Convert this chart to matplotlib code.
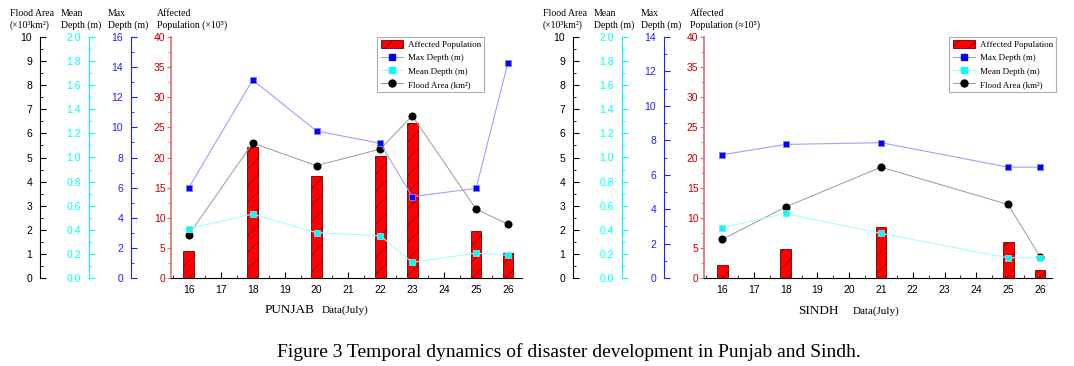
import matplotlib
matplotlib.use("Agg")
import matplotlib.pyplot as plt
from matplotlib.ticker import MultipleLocator, FormatStrFormatter
from matplotlib.patches import Patch
from matplotlib.lines import Line2D

# ---- data ----
# Punjab
pj_days = [16, 18, 20, 22, 23, 25, 26]
pj_population = [4.5, 21.7, 16.9, 20.2, 25.7, 7.75, 4.15]      # x10^5
pj_max_depth = [6.0, 13.15, 9.76, 8.94, 5.4, 5.95, 14.3]       # m
pj_mean_depth = [0.41, 0.53, 0.376, 0.35, 0.13, 0.207, 0.188]  # m
pj_flood_area = [1.8, 5.6, 4.66, 5.35, 6.73, 2.86, 2.23]       # x10^3 km2

# Sindh
sd_days = [16, 18, 21, 25, 26]
sd_population = [2.15, 4.8, 8.45, 6.0, 1.38]
sd_max_depth = [7.16, 7.76, 7.86, 6.44, 6.44]
sd_mean_depth = [0.417, 0.536, 0.37, 0.168, 0.168]
sd_flood_area = [1.6, 2.95, 4.6, 3.05, 0.89]

x_ticks = list(range(16, 27))

SANS = ["Liberation Sans", "DejaVu Sans"]
SERIF = ["Liberation Serif", "DejaVu Serif"]
plt.rcParams["font.family"] = SANS
plt.rcParams["hatch.linewidth"] = 0.5

W, H = 1074, 366
fig = plt.figure(figsize=(W / 100, H / 100), dpi=100)


def px(x, y):
    return x / W, 1 - y / H


def side_axis(ax, offset, ylim, major, minor, spine_col, label_col, fmt):
    tw = ax.twinx()
    for s in ("right", "top", "bottom"):
        tw.spines[s].set_visible(False)
    tw.spines["left"].set_visible(True)
    tw.spines["left"].set_position(("outward", offset))
    tw.spines["left"].set_color(spine_col)
    tw.yaxis.set_ticks_position("left")
    tw.set_ylim(*ylim)
    tw.yaxis.set_major_locator(MultipleLocator(major))
    tw.yaxis.set_minor_locator(MultipleLocator(minor))
    tw.yaxis.set_major_formatter(FormatStrFormatter(fmt))
    tw.tick_params(axis="y", which="both", direction="in", color=spine_col,
                   labelcolor=label_col, labelsize=7.5, pad=6)
    tw.tick_params(axis="y", which="major", length=4)
    tw.tick_params(axis="y", which="minor", length=2)
    return tw


def panel(left_px, right_px, days, pop, maxd, meand, area, max_top, max_step,
          xlim, pop_unit, legend_right):
    l, _ = px(left_px, 0)
    ax = fig.add_axes([l, 1 - 278 / H, (right_px - left_px) / W, 241 / H])
    ax.bar(days, pop, width=0.34, color="#ff0000", edgecolor="#700000",
           hatch="//", linewidth=0.6, zorder=2)
    ax.set_xlim(*xlim)
    ax.set_ylim(0, 40)
    ax.set_xticks(x_ticks)
    ax.xaxis.set_minor_locator(MultipleLocator(0.5))
    ax.yaxis.set_major_locator(MultipleLocator(5))
    ax.yaxis.set_minor_locator(MultipleLocator(2.5))
    for s in ("right", "top"):
        ax.spines[s].set_visible(False)
    ax.spines["left"].set_color("#d87070")
    ax.spines["left"].set_linewidth(1.2)
    ax.tick_params(axis="y", which="both", direction="out", color="#d87070",
                   labelcolor="#c00000", labelsize=7.5, pad=1)
    ax.tick_params(axis="y", which="major", length=3)
    ax.tick_params(axis="y", which="minor", length=2)
    ax.tick_params(axis="x", which="both", direction="in", labelsize=7.5, pad=5)
    ax.tick_params(axis="x", which="major", length=4)
    ax.tick_params(axis="x", which="minor", length=2)

    a_area = side_axis(ax, 94, (0, 10), 1, 0.5, "black", "black", "%d")
    a_mean = side_axis(ax, 59, (0, 2), 0.2, 0.1, "#00ffff", "#00ffff", "%.1f")
    a_max = side_axis(ax, 28.5, (0, max_top), max_step, 1, "#2020ff", "#2020ff", "%d")

    a_area.plot(days, area, color="#999999", lw=0.7, marker="o", ms=4.8,
                mfc="black", mec="black")
    a_mean.plot(days, meand, color="#a0ffff", lw=0.8, marker="s", ms=5,
                mfc="#00ffff", mec="#80e0e0", mew=0.6)
    a_max.plot(days, maxd, color="#a0a0ff", lw=0.8, marker="s", ms=5,
               mfc="#0000ff", mec="#8080ff", mew=0.6)

    handles = [
        Patch(facecolor="#ff0000", edgecolor="#700000", hatch="//", lw=0.6),
        Line2D([], [], color="#a0a0ff", lw=0.8, marker="s", ms=5, mfc="#0000ff", mec="#0000ff"),
        Line2D([], [], color="#a0ffff", lw=0.8, marker="s", ms=5, mfc="#00ffff", mec="#00ffff"),
        Line2D([], [], color="#999999", lw=0.7, marker="o", ms=5, mfc="black", mec="black"),
    ]
    labels = ["Affected Population", "Max Depth (m)", "Mean Depth (m)", "Flood Area (km\u00b2)"]
    leg = fig.legend(handles, labels, loc="upper right",
                     bbox_to_anchor=px(legend_right, 37), prop={"family": SERIF, "size": 6.5},
                     frameon=True, fancybox=False, edgecolor="#999999", borderpad=0.35,
                     labelspacing=0.45, handlelength=2.5, handleheight=1.0,
                     handletextpad=0.5, borderaxespad=0)
    leg.get_frame().set_linewidth(0.8)

    # axis header labels
    heads = [("Flood Area", "(\u00d710\u00b3km\u00b2)"), ("Mean", "Depth (m)"),
             ("Max", "Depth (m)"), ("Affected", "Population (" + pop_unit + "10\u2075)")]
    offsets = [-161, -110, -63, -14]
    for (l1, l2), dx in zip(heads, offsets):
        fig.text(*px(left_px + dx, 13), l1, family=SERIF, fontsize=7, va="center")
        fig.text(*px(left_px + dx, 25), l2, family=SERIF, fontsize=7, va="center")
    return ax


panel(171, 522, pj_days, pj_population, pj_max_depth, pj_mean_depth, pj_flood_area,
      16, 2, (15.44, 26.44), "\u00d7", 484)
panel(704, 1052, sd_days, sd_population, sd_max_depth, sd_mean_depth, sd_flood_area,
      14, 2, (15.43, 26.38), "\u2248", 1056)

fig.text(*px(265, 310), "PUNJAB", family=SERIF, fontsize=9.5, va="center")
fig.text(*px(322, 310), "Data(July)", family=SERIF, fontsize=8, va="center")
fig.text(*px(798, 311), "SINDH", family=SERIF, fontsize=9.5, va="center")
fig.text(*px(853, 311), "Data(July)", family=SERIF, fontsize=8, va="center")

fig.text(*px(569, 352), "Figure 3 Temporal dynamics of disaster development in Punjab and Sindh.",
         family=SERIF, fontsize=14, ha="center", va="center")

fig.savefig("out.png", dpi=100)
